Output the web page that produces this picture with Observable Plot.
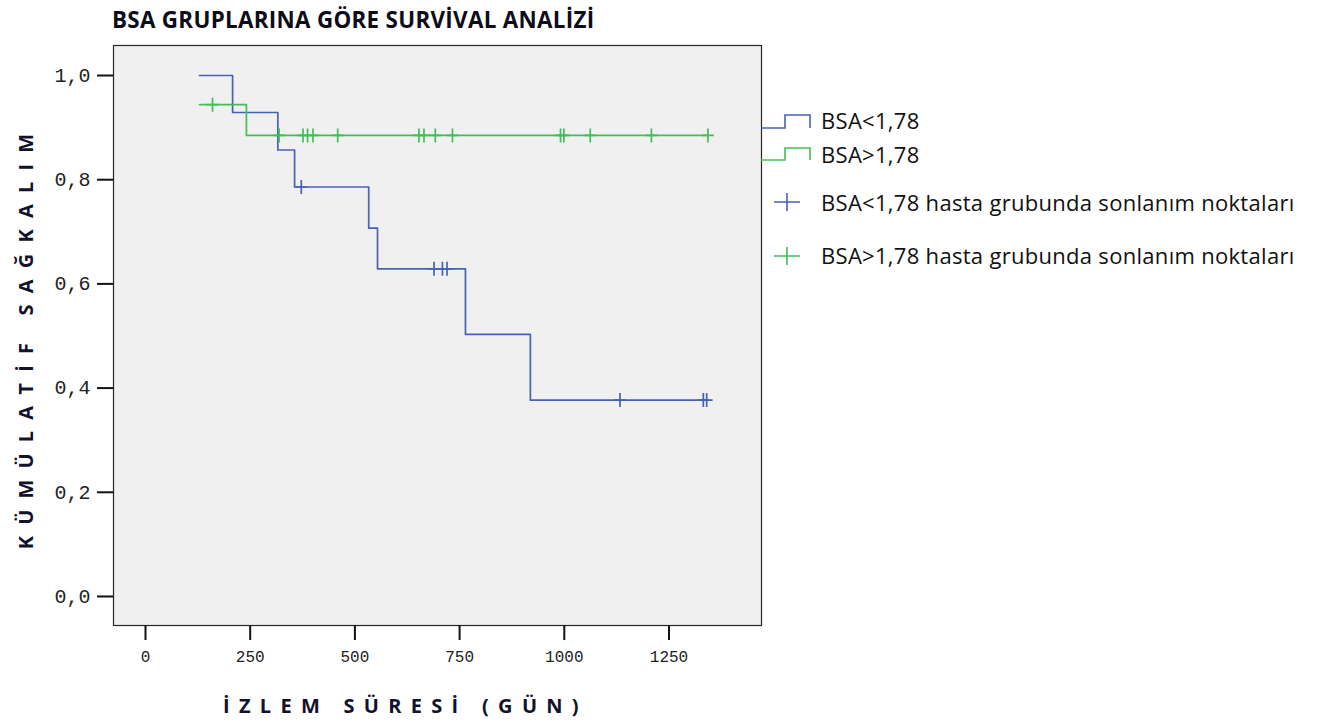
<!DOCTYPE html>
<html>
<head>
<meta charset="utf-8">
<script src="https://cdn.jsdelivr.net/npm/d3@7"></script>
<script src="https://cdn.jsdelivr.net/npm/@observablehq/plot@0.6"></script>
<style>
  html, body { margin: 0; padding: 0; background: #ffffff; }
  #wrap { position: relative; width: 1321px; height: 727px; overflow: hidden; }
  #chart { position: absolute; left: 0; top: 0; }
  .title { position: absolute; left: 112px; top: 4px; font-family: "Open Sans", sans-serif; font-weight: 700; font-size: 22.4px; color: #0d0d1a; white-space: nowrap; letter-spacing: 0.3px; }
  .xlab { position: absolute; left: 223px; top: 692px; font-family: "Open Sans", sans-serif; font-weight: 700; font-size: 20px; letter-spacing: 9.3px; color: #12122a; white-space: nowrap; }
  .ylab { position: absolute; left: 25px; top: 336px; transform: translate(-50%, -50%) rotate(-90deg); font-family: "Open Sans", sans-serif; font-weight: 700; font-size: 20px; letter-spacing: 11.2px; color: #12122a; white-space: nowrap; }
  #legend { position: absolute; left: 750px; top: 100px; }
</style>
</head>
<body>
<div id="wrap">
  <div id="chart"></div>
  <div class="title">BSA GRUPLARINA GÖRE SURVİVAL ANALİZİ</div>
  <div class="ylab">KÜMÜLATİF SAĞKALIM</div>
  <div class="xlab">İZLEM SÜRESİ (GÜN)</div>
  <div id="legend"></div>
</div>
<script>
// Kaplan–Meier steps for the two BSA groups (time in days, cumulative survival)
const lowTimes = [129, 208, 316, 356, 533, 554, 764, 919];
const lowSurv  = [1.000, 0.929, 0.857, 0.786, 0.707, 0.629, 0.503, 0.377];
const lowEnd   = 1340;
const lowCensored = [372, 689, 709, 720, 1133, 1332, 1340];

const highTimes = [129, 241];
const highSurv  = [0.944, 0.885];
const highEnd   = 1343;
const highCensored = [160, 319, 376, 387, 400, 459, 653, 665, 692, 733, 991, 999, 1062, 1208, 1343];

const seriesNames = ["BSA<1,78", "BSA>1,78"];
const censorNames = ["BSA<1,78 hasta grubunda sonlanım noktaları", "BSA>1,78 hasta grubunda sonlanım noktaları"];
const colors = ["#4761b5", "#41bf55"];

const xTicks = [0, 250, 500, 750, 1000, 1250];
const xTickLabels = ["0", "250", "500", "750", "1000", "1250"];
const yTicks = [0, 0.2, 0.4, 0.6, 0.8, 1.0];
const yTickLabels = ["0,0", "0,2", "0,4", "0,6", "0,8", "1,0"];

function survivalAt(times, surv, t) {
  let s = surv[0];
  for (let i = 0; i < times.length; i++) if (times[i] <= t) s = surv[i];
  return s;
}
function stepRows(times, surv, end) {
  const rows = times.map((t, i) => ({t, s: surv[i]}));
  rows.push({t: end, s: surv[surv.length - 1]});
  return rows;
}
const lowLine = stepRows(lowTimes, lowSurv, lowEnd);
const highLine = stepRows(highTimes, highSurv, highEnd);
const lowMarks = lowCensored.map(t => ({t, s: survivalAt(lowTimes, lowSurv, t)}));
const highMarks = highCensored.map(t => ({t, s: survivalAt(highTimes, highSurv, t)}));

// thin "+" used for censored observations
const censorSymbol = {
  draw(ctx, size) {
    const r = Math.sqrt(size / Math.PI);
    ctx.moveTo(-r * 0.85, 0); ctx.lineTo(r * 0.85, 0);
    ctx.moveTo(0, -r); ctx.lineTo(0, r);
  }
};

const chart = Plot.plot({
  width: 1321,
  height: 727,
  marginLeft: 113,
  marginRight: 560,
  marginTop: 45,
  marginBottom: 102,
  style: {background: "transparent", fontFamily: "Liberation Mono, monospace"},
  x: {domain: [-76.4, 1470.9]},
  y: {domain: [-0.0557, 1.0576]},
  marks: [
    Plot.frame({fill: "#f0f0f0", stroke: "#262626", strokeWidth: 1.2}),
    Plot.axisY({ticks: yTicks, tickFormat: (d, i) => yTickLabels[i], tickSize: 16, tickPadding: 7, strokeWidth: 2, stroke: "#111", fill: "#222", fontSize: 20, label: null}),
    Plot.axisX({ticks: xTicks, tickFormat: (d, i) => xTickLabels[i], tickSize: 15, tickPadding: 10, strokeWidth: 2, stroke: "#111", fill: "#222", fontSize: 16, label: null}),
    Plot.line(lowLine, {x: "t", y: "s", curve: "step-after", stroke: colors[0], strokeWidth: 1.7}),
    Plot.line(highLine, {x: "t", y: "s", curve: "step-after", stroke: colors[1], strokeWidth: 1.7}),
    Plot.dot(lowMarks, {x: "t", y: "s", symbol: censorSymbol, r: 7, stroke: colors[0], fill: "none", strokeWidth: 1.7}),
    Plot.dot(highMarks, {x: "t", y: "s", symbol: censorSymbol, r: 7, stroke: colors[1], fill: "none", strokeWidth: 1.7})
  ]
});
document.getElementById("chart").appendChild(chart);

// legend: step glyphs for the curves, crosses for the censored points
const lg = d3.select("#legend").append("svg").attr("width", 571).attr("height", 180)
  .style("font-family", "Open Sans, sans-serif").style("font-size", "22px").style("letter-spacing", "0.3px");
const stepGlyph = (yLow, yHigh, c) => lg.append("path")
  .attr("d", `M11,${yLow}H35V${yHigh}H60V${yLow}`)
  .attr("fill", "none").attr("stroke", c).attr("stroke-width", 1.6);
stepGlyph(28, 15, colors[0]);
stepGlyph(60, 48, colors[1]);
const crossGlyph = (y, c) => lg.append("path")
  .attr("d", `M24,${y}H50M37,${y - 9}V${y + 9}`)
  .attr("fill", "none").attr("stroke", c).attr("stroke-width", 1.6);
crossGlyph(102, colors[0]);
crossGlyph(156, colors[1]);
const rowsY = [21, 55.5, 103, 156];
const labels = [...seriesNames, ...censorNames];
labels.forEach((txt, i) => lg.append("text").attr("x", 71).attr("y", rowsY[i]).attr("dy", "0.35em").attr("fill", "#111").text(txt));
</script>
</body>
</html>
